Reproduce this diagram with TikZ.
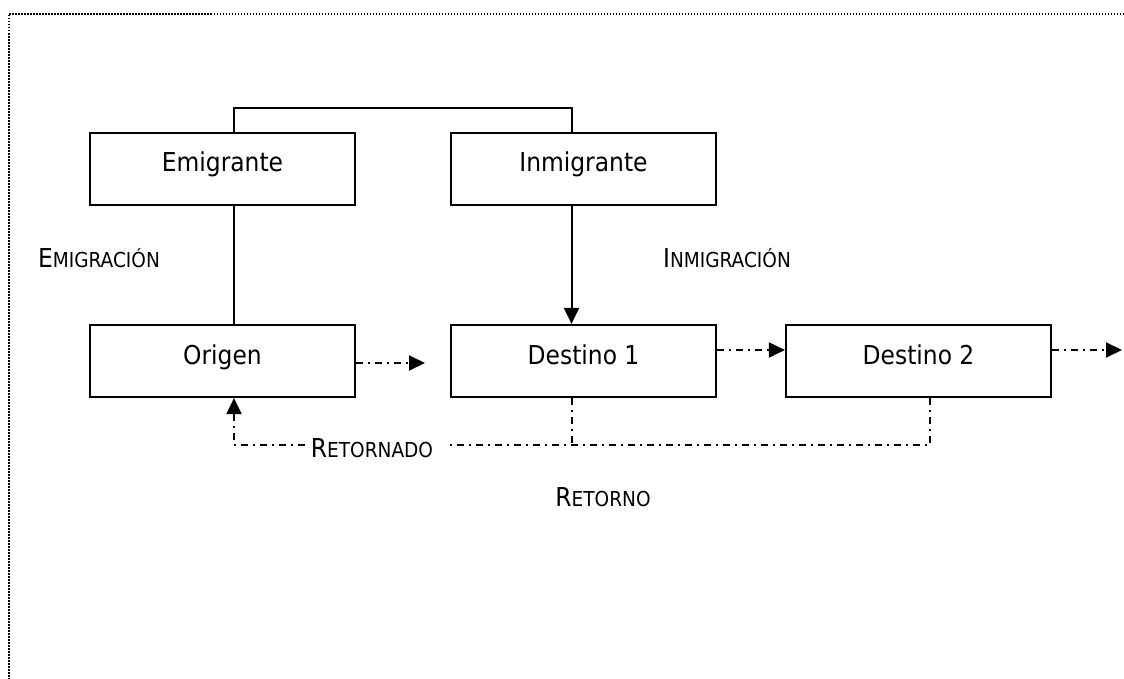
\documentclass[tikz,border=0pt]{standalone}
\usepackage{fontspec}
\setmainfont{DejaVu Sans Condensed}
\usetikzlibrary{calc,arrows.meta}

\newcommand{\versalita}[2]{{\fontsize{13}{15}\selectfont #1}{\fontsize{10.3}{12}\selectfont #2}}

\begin{document}
\begin{tikzpicture}[x=0.5pt,y=-0.5pt,font=\fontsize{13}{15}\selectfont,
    caja/.style={draw,line width=1.1pt,minimum width=132.5pt,minimum height=36pt,
      inner sep=0pt,text height=9pt,text depth=6pt},
    linea/.style={line width=1pt},
    retorno/.style={line width=1pt,dash pattern=on 3.5pt off 2.5pt on 1pt off 2.5pt},
    punta/.style={-{Triangle[length=8pt,width=7.5pt]}}]
    \useasboundingbox (0,0) rectangle (1124,679);
    \draw[line width=0.8pt,dash pattern=on 0.75pt off 0.75pt] (1124,14) -- (9,14) -- (9,679); %marco
    % cajas
    \node[caja] (emigrante) at (222.5,169) {Emigrante};
    \node[caja] (inmigrante) at (583.5,169) {Inmigrante};
    \node[caja] (origen) at (222.5,361) {Origen};
    \node[caja] (destino1) at (583.5,361) {Destino 1};
    \node[caja] (destino2) at (918.5,361) {Destino 2};
    % rotulos
    \node (emigracion) at (99,258) {\versalita{E}{MIGRACIÓN}};
    \node (inmigracion) at (727,258) {\versalita{I}{NMIGRACIÓN}};
    \node (retornado) at (372,448) {\versalita{R}{ETORNADO}};
    \node (retornoTxt) at (603,497) {\versalita{R}{ETORNO}};
    \coordinate (salida0) at (425,363); %flecha suelta de origen
    \coordinate (salida3) at (1122,350); %flecha suelta de destino 2
    \coordinate (retA) at (450,445);
    \coordinate (retB) at (305,445);
    \coordinate (bajada1) at ($(destino1.south)+(-12,0)$);
    % conexiones
    \draw[linea] ($(emigrante.north)+(11.5,0)$) -- ++(0,-24) -| ($(inmigrante.north)+(-12,0)$);
    \draw[linea] ($(emigrante.south)+(11.5,0)$) -- ($(origen.north)+(11.5,0)$);
    \draw[linea,punta] ($(inmigrante.south)+(-12,0)$) -- ($(destino1.north)+(-12,0)$);
    \draw[retorno,punta] ($(origen.east)+(0,2)$) -- (salida0);
    \draw[retorno,punta] ([yshift=5.5pt]destino1.east) -- ([yshift=5.5pt]destino2.west);
    \draw[retorno,punta] ([yshift=5.5pt]destino2.east) -- (salida3);
    \draw[retorno] ($(destino2.south)+(11.5,0)$) |- (retA);
    \draw[retorno] (bajada1) -- (bajada1 |- retA);
    \draw[retorno,punta] (retB) -| ($(origen.south)+(11.5,0)$);
\end{tikzpicture}
\end{document}
